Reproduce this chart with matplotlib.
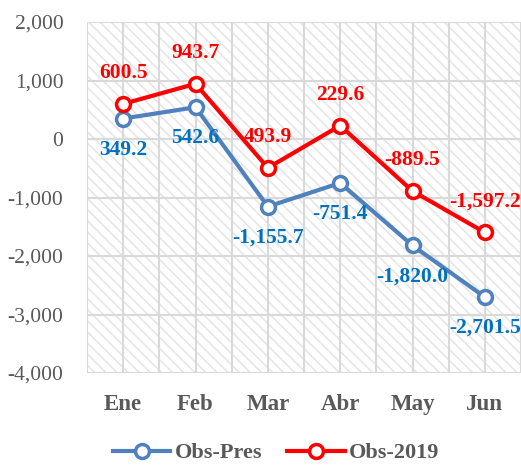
import matplotlib
matplotlib.use("Agg")
import matplotlib.pyplot as plt
from matplotlib.patches import Rectangle
from matplotlib.ticker import FuncFormatter, MultipleLocator

meses = ["Ene", "Feb", "Mar", "Abr", "May", "Jun"]
obs_pres = [349.2, 542.6, -1155.7, -751.4, -1820.0, -2701.5]
obs_2019 = [600.5, 943.7, -493.9, 229.6, -889.5, -1597.2]
# etiquetas tal como aparecen en el grafico original
etiq_2019 = ["600.5", "943.7", "493.9", "229.6", "-889.5", "-1,597.2"]

matplotlib.rcParams['font.family'] = 'Liberation Serif'
matplotlib.rcParams['hatch.linewidth'] = 1.2

gris = '#595959'
azul = '#4F81BD'
azul_txt = '#0070C0'
rojo = '#FF0000'

fig = plt.figure(figsize=(5.21, 4.65), dpi=100)
ax = fig.add_axes([87 / 521, 1 - 373 / 465, 434 / 521, 351 / 465])

# fondo rayado
ax.add_patch(Rectangle((0, 0), 1, 1, transform=ax.transAxes, fill=False,
                       hatch='\\\\\\', edgecolor='#e6e6e6', linewidth=0, zorder=0))

x = list(range(len(meses)))
ax.plot(x, obs_pres, color=azul, lw=3, marker='o', ms=10, mfc='white',
        mec=azul, mew=2.5, label='Obs-Pres', zorder=3)
ax.plot(x, obs_2019, color=rojo, lw=3, marker='o', ms=10, mfc='white',
        mec=rojo, mew=2.5, label='Obs-2019', zorder=3)

for i, v in enumerate(obs_pres):
    ax.annotate(f"{v:,.1f}", (i, v), xytext=(0, -31), textcoords='offset pixels',
                ha='center', va='center', color=azul_txt, fontsize=15.5, fontweight='bold')
for i, v in enumerate(obs_2019):
    ax.annotate(etiq_2019[i], (i, v), xytext=(0, 31), textcoords='offset pixels',
                ha='center', va='center', color=rojo, fontsize=15.5, fontweight='bold')

ax.set_xlim(-0.5, 5.5)
ax.set_ylim(-4000, 2000)
ax.yaxis.set_major_locator(MultipleLocator(1000))
ax.yaxis.set_major_formatter(FuncFormatter(lambda v, p: f"{v:,.0f}"))
ax.set_xticks(x)
ax.set_xticklabels(meses, fontweight='bold', fontsize=16.5, color=gris)
ax.xaxis.set_minor_locator(MultipleLocator(0.5))
ax.tick_params(axis='y', labelsize=15.5, colors=gris, length=0, pad=17)
ax.tick_params(axis='x', length=0, pad=15)
ax.tick_params(axis='x', which='minor', length=0)

ax.grid(True, axis='y', color='#d9d9d9', lw=1.5, zorder=1)
ax.grid(True, axis='x', which='both', color='#d9d9d9', lw=1.5, zorder=1)
ax.set_axisbelow(True)
for s in ax.spines.values():
    s.set_visible(False)

leg = fig.legend(loc='center', bbox_to_anchor=(276 / 521, 1 - 453 / 465), ncol=2,
                 frameon=False, handlelength=2.6, handletextpad=0.2,
                 columnspacing=1.1, prop={'weight': 'bold', 'size': 16})
for t in leg.get_texts():
    t.set_color(gris)

fig.savefig('out.png', dpi=100)
